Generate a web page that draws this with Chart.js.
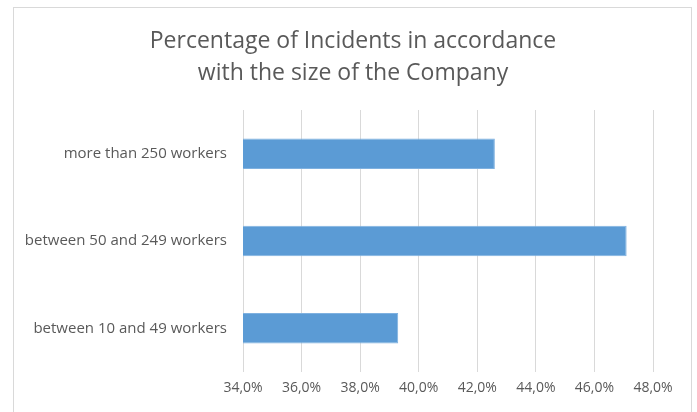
<!DOCTYPE html>
<html>
<head>
<meta charset="utf-8">
<script src="https://cdn.jsdelivr.net/npm/chart.js@4/dist/chart.umd.min.js"></script>
<style>
html,body{margin:0;padding:0;background:#fff;}
#wrap{width:697px;height:412px;position:relative;}
</style>
</head>
<body>
<div id="wrap"><canvas id="c" width="697" height="412"></canvas></div>
<script>
const titleLines = ["Percentage of Incidents in accordance", "with the size of the Company"];
const categories = ["more than 250 workers", "between 50 and 249 workers", "between 10 and 49 workers"];
const values = [42.6, 47.1, 39.3];
const axisMin = 34;
const axisMax = 48;
const axisStep = 2;

const frame = {
  id: 'frame',
  beforeDraw(chart) {
    const ctx = chart.ctx;
    ctx.save();
    ctx.fillStyle = '#ffffff';
    ctx.fillRect(0, 0, chart.width, chart.height);
    ctx.strokeStyle = '#d9d9d9';
    ctx.lineWidth = 1;
    ctx.strokeRect(13.5, 7.5, 678, 420);
    ctx.restore();
  },
  afterDraw(chart) {
    const ctx = chart.ctx;
    ctx.save();
    ctx.fillStyle = '#595959';
    ctx.font = '23px "Open Sans"';
    ctx.textAlign = 'center';
    ctx.textBaseline = 'middle';
    ctx.fillText(titleLines[0], 353, 41);
    ctx.fillText(titleLines[1], 353, 73);
    ctx.restore();
  }
};

new Chart(document.getElementById('c'), {
  type: 'bar',
  data: {
    labels: categories,
    datasets: [{
      data: values,
      backgroundColor: '#5b9bd5',
      borderColor: '#7fb1e0',
      borderWidth: 1,
      borderSkipped: false,
      categoryPercentage: 1.0,
      barPercentage: 0.35
    }]
  },
  options: {
    indexAxis: 'y',
    responsive: false,
    animation: false,
    layout: { padding: { left: 0, right: 44, top: 110, bottom: 0 } },
    plugins: {
      legend: { display: false },
      tooltip: { enabled: false },
      title: { display: false }
    },
    scales: {
      x: {
        min: axisMin,
        max: axisMax,
        ticks: {
          stepSize: axisStep,
          color: '#595959',
          font: { family: 'Open Sans', size: 14 },
          padding: 8,
          callback: v => v.toFixed(1).replace('.', ',') + '%'
        },
        grid: { color: '#d9d9d9', drawTicks: false, lineWidth: 1 },
        border: { display: false },
        afterFit(scale) { scale.height = 40; }
      },
      y: {
        ticks: {
          color: '#595959',
          font: { family: 'Open Sans', size: 15 },
          padding: 16
        },
        grid: { display: false, drawTicks: false },
        border: { display: false },
        afterFit(scale) { scale.width = 243; }
      }
    }
  },
  plugins: [frame]
});
</script>
</body>
</html>
